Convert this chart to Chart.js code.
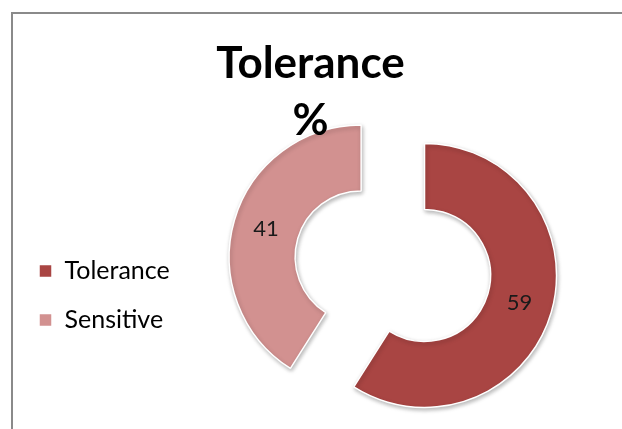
<!DOCTYPE html>
<html><head><meta charset="utf-8">
<script src="https://cdn.jsdelivr.net/npm/chart.js@4.4.1/dist/chart.umd.min.js"></script>
<style>
html,body{margin:0;padding:0;background:#fff;width:622px;height:429px;overflow:hidden;}
#frame{position:absolute;left:11px;top:12px;width:700px;height:500px;border-left:2px solid #8a8a8a;border-top:2px solid #8a8a8a;box-sizing:border-box;}
#wrap{position:absolute;left:13px;top:14px;width:607px;height:415px;}
</style></head><body>
<div id="frame"></div>
<div id="wrap"><canvas id="c"></canvas></div>
<script>
const categories = ['Tolerance', 'Sensitive'];
const values = [59, 41];
const titleLines = ['Tolerance', '%'];

const EXPLODE = 33;
const LEGEND_SHIFT = 97;

const doughnutExtras = {
  id: 'doughnutExtras',
  afterInit(chart) {
    const t = chart.titleBlock;
    if (t) t._layers = () => [{ z: 1, draw: (area) => t.draw(area) }];
  },
  afterLayout(chart) {
    const lg = chart.legend;
    if (lg) { lg.top += LEGEND_SHIFT; lg.bottom += LEGEND_SHIFT; }
  },
  afterDatasetUpdate(chart, args) {
    args.meta.data.forEach(el => {
      const mid = (el.startAngle + el.endAngle) / 2;
      el.x += Math.cos(mid) * EXPLODE;
      el.y += Math.sin(mid) * EXPLODE;
    });
  },
  beforeDatasetsDraw(chart) {
    const ctx = chart.ctx;
    ctx.save();
    ctx.shadowColor = 'rgba(0,0,0,0.28)';
    ctx.shadowBlur = 4;
    ctx.shadowOffsetX = 1;
    ctx.shadowOffsetY = 2;
  },
  afterDatasetsDraw(chart) {
    const ctx = chart.ctx;
    ctx.restore();
    ctx.save();
    ctx.font = '22px Lato';
    ctx.fillStyle = '#1a1a1a';
    ctx.textAlign = 'center';
    ctx.textBaseline = 'middle';
    const meta = chart.getDatasetMeta(0);
    meta.data.forEach((el, i) => {
      const p = el.tooltipPosition();
      ctx.fillText(String(chart.data.datasets[0].data[i]), p.x, p.y);
    });
    ctx.restore();
  }
};

Chart.defaults.font.family = 'Lato';
Chart.defaults.color = '#000';

new Chart(document.getElementById('c'), {
  type: 'doughnut',
  data: {
    labels: categories,
    datasets: [{
      data: values,
      backgroundColor: ['#A94543', '#D29190'],
      borderColor: '#ffffff',
      borderWidth: 1.5,
      offset: 0
    }]
  },
  options: {
    responsive: true,
    maintainAspectRatio: false,
    animation: false,
    events: [],
    cutout: '50%',
    radius: 132,
    layout: { padding: { left: 2, right: 14, top: 0, bottom: 46 } },
    plugins: {
      tooltip: { enabled: false },
      title: {
        display: true,
        text: titleLines,
        color: '#000',
        font: { family: 'Lato', size: 44, weight: 'bold', lineHeight: 1.3 },
        padding: { top: 21, bottom: 0 }
      },
      legend: {
        display: true,
        position: 'left',
        labels: {
          font: { family: 'Lato', size: 25 },
          color: '#000',
          boxWidth: 13,
          boxHeight: 13,
          padding: 24
        }
      }
    }
  },
  plugins: [doughnutExtras]
});
</script>
</body></html>
